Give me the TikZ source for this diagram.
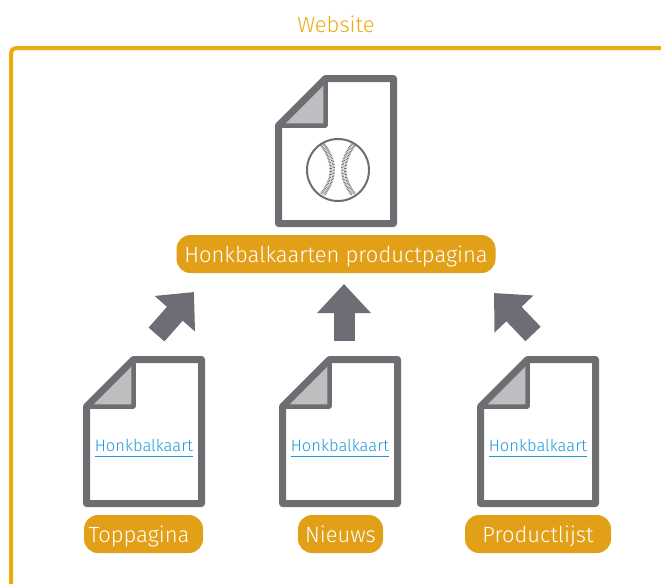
\documentclass[tikz,border=0pt]{standalone}
\usepackage{fontspec}
\setmainfont{Fira Sans Light}
\usepackage{xcolor}
\usetikzlibrary{shapes,arrows.meta}
\definecolor{pagegray}{HTML}{6D6E71}
\definecolor{foldgray}{HTML}{BCBEC0}
\definecolor{arrowgray}{HTML}{6D6E75}
\definecolor{labelorange}{HTML}{E1A017}
\definecolor{frameyellow}{HTML}{EBAC0E}
\definecolor{linkblue}{HTML}{1C9AD6}

\begin{document}
\begin{tikzpicture}[thick, x=1pt, y=-1pt]
\tikzstyle{pageline}=[draw=pagegray, line width=7pt, line join=round, fill=white]
\tikzstyle{foldline}=[draw=pagegray, line width=4.5pt, line join=round, fill=foldgray]
\tikzstyle{vertexl}=[rectangle, rounded corners=14pt, fill=labelorange, text=white, minimum height=38pt, inner sep=0pt, text height=18pt, text depth=2pt, font=\fontsize{22}{24}\selectfont]
\tikzstyle{vertexk}=[rectangle, text=linkblue, inner xsep=0pt, inner ysep=2.5pt, text height=13pt, text depth=3pt, font=\fontsize{16.5}{19}\selectfont]
\tikzstyle{linkstyle}=[draw=linkblue, line width=1pt]
\tikzstyle{drawstyle}=[draw=arrowgray, line width=21pt, -{Triangle[length=29pt, width=52pt, fill=arrowgray]}]
\tikzstyle{ballstyle}=[draw=pagegray, line width=2pt]
\tikzstyle{seamstyle}=[draw=pagegray, line width=2.4pt, dash pattern=on 0.7pt off 0.8pt]
\useasboundingbox (0,0) rectangle (661,584);

\draw[draw=frameyellow, line width=4pt, rounded corners=5pt] (11,584) |- (661,48);
\node[text=frameyellow, inner sep=0pt, text height=18pt, text depth=2pt, font=\fontsize{22}{24}\selectfont] (Title) at (336,24) {Website};

% product page
\draw[foldline] (278.5,125.5) -- (325.5,78.5) -- (325.5,125.5) -- cycle;
\draw[pageline, fill=none] (278.5,125.5) -- (325.5,78.5) -- (393.5,78.5) -- (393.5,223.5) -- (278.5,223.5) -- cycle;
\node[circle, ballstyle, minimum size=62pt, inner sep=0pt] (Ball) at (338,170) {};
\draw[seamstyle] (321,145) .. controls (334,162) and (334,178) .. (321,194);
\draw[seamstyle] (324,144) .. controls (337,162) and (337,178) .. (324,195);
\draw[seamstyle] (355,145) .. controls (342,162) and (342,178) .. (355,194);
\draw[seamstyle] (352,144) .. controls (339,162) and (339,178) .. (352,195);
\node[vertexl, minimum width=319pt] (Prod) at (336,254) {Honkbalkaarten productpagina};

% toppagina
\draw[foldline] (86.5,406.5) -- (133.5,359.5) -- (133.5,406.5) -- cycle;
\draw[pageline, fill=none] (86.5,406.5) -- (133.5,359.5) -- (201.5,359.5) -- (201.5,503.5) -- (86.5,503.5) -- cycle;
\node[vertexk] (Link0) at (144,446) {Honkbalkaart};
\draw[linkstyle] (Link0.south west) -- (Link0.south east);
\node[vertexl, minimum width=119pt] (Top) at (143.5,534) {Toppagina\kern9pt};

% nieuws
\draw[foldline] (282.5,406.5) -- (329.5,359.5) -- (329.5,406.5) -- cycle;
\draw[pageline, fill=none] (282.5,406.5) -- (329.5,359.5) -- (397.5,359.5) -- (397.5,503.5) -- (282.5,503.5) -- cycle;
\node[vertexk] (Link1) at (340,446) {Honkbalkaart};
\draw[linkstyle] (Link1.south west) -- (Link1.south east);
\node[vertexl, minimum width=85pt] (News) at (340.5,534) {Nieuws};

% productlijst
\draw[foldline] (480.5,406.5) -- (527.5,359.5) -- (527.5,406.5) -- cycle;
\draw[pageline, fill=none] (480.5,406.5) -- (527.5,359.5) -- (595.5,359.5) -- (595.5,503.5) -- (480.5,503.5) -- cycle;
\node[vertexk] (Link2) at (538,446) {Honkbalkaart};
\draw[linkstyle] (Link2.south west) -- (Link2.south east);
\node[vertexl, minimum width=146pt] (List) at (538,534) {Productlijst};

% arrows
\coordinate (A0s) at (156.5,334.5);
\coordinate (A0t) at (194,292);
\coordinate (A1s) at (344,341);
\coordinate (A1t) at (344,284);
\coordinate (A2s) at (533,334);
\coordinate (A2t) at (494,293);
\draw[drawstyle] (A0s) -- (A0t);
\draw[drawstyle] (A1s) -- (A1t);
\draw[drawstyle] (A2s) -- (A2t);
\end{tikzpicture}
\end{document}
